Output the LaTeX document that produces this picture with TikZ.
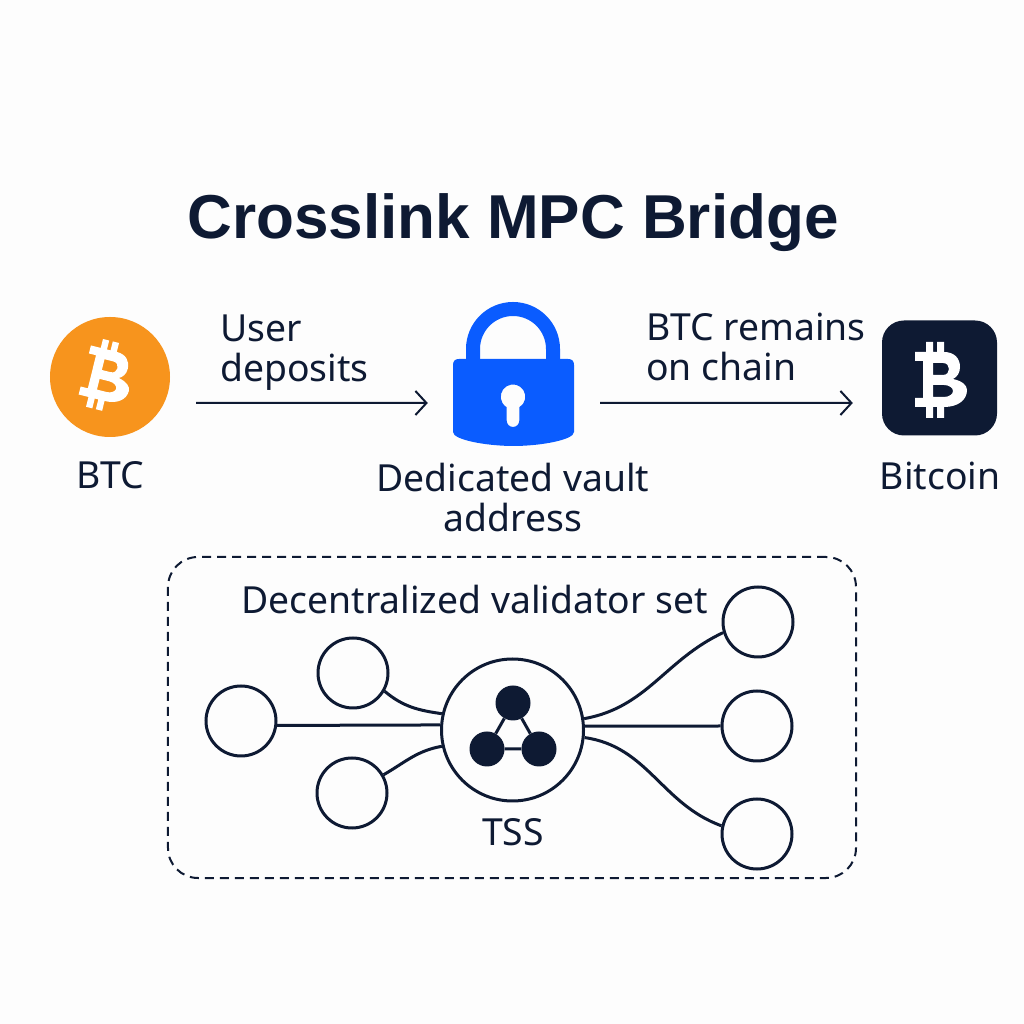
\documentclass[tikz,border=0pt]{standalone}
\usepackage{fontspec}
\setmainfont{Noto Sans}
\newfontfamily\titlefont{Liberation Sans}
\usepackage{tikz}
\usetikzlibrary{arrows.meta}

\definecolor{ink}{HTML}{0E1A33}
\definecolor{coinorange}{HTML}{F7941D}
\definecolor{vaultblue}{HTML}{0A5CFF}
\definecolor{paper}{HTML}{FDFDFD}

\newcommand{\bitcoinglyph}{%
  (-25,28) -- (-14,28) -- (-14,38) -- (-7,38) -- (-7,28) -- (-3,28) -- (-3,38) -- (4,38) -- (4,28)
  .. controls (14,28) and (20,22) .. (20,13) .. controls (20,7) and (17,3) .. (13,1)
  .. controls (22,-1) and (27,-5) .. (27,-10) .. controls (27,-20) and (18,-27) .. (4,-27)
  -- (4,-38) -- (-3,-38) -- (-3,-27) -- (-7,-27) -- (-7,-38) -- (-14,-38) -- (-14,-27) -- (-25,-27)
  -- (-25,-18) -- (-17,-18) -- (-17,19) -- (-25,19) -- cycle
  (-7,17) -- (3,17) .. controls (7,17) and (9,14) .. (9,11) .. controls (9,8) and (7,5) .. (3,5) -- (-7,5) -- cycle
  (-7,-5) -- (4,-5) .. controls (9,-5) and (13,-8) .. (13,-11) .. controls (13,-14) and (9,-17) .. (4,-17) -- (-7,-17) -- cycle}

\tikzset{
  label/.style={text=ink, font=\fontsize{37.3bp}{40bp}\selectfont, inner sep=0pt},
  flow/.style={ink, line width=2bp, -{Straight Barb[length=11bp,width=24bp]}},
  link/.style={ink, line width=3bp},
  validator/.style={circle, draw=ink, line width=3bp, fill=paper, minimum size=70bp, inner sep=0pt},
  member/.style={circle, fill=ink, minimum size=35bp, inner sep=0pt},
}

\begin{document}
\begin{tikzpicture}[x=1bp,y=1bp]
    \useasboundingbox[fill=paper] (0,0) rectangle (1024,1024);

    \node[text=ink, font=\fontsize{62bp}{66bp}\selectfont\titlefont\bfseries, inner sep=0pt] (title) at (513,801) {Crosslink MPC Bridge};

    % top row
    \node[circle, fill=coinorange, minimum size=120bp, inner sep=0pt] (btc) at (110,647) {};
    \node[rectangle, fill=ink, rounded corners=22bp, minimum size=115bp, inner sep=0pt] (bitcoin) at (939.5,646) {};
    \node[minimum width=121bp, minimum height=87bp, inner sep=0pt] (vault) at (513.5,621.5) {};
    \begin{scope}[shift={(107,648)}, rotate=-14, scale=0.92]
      \fill[white, even odd rule] \bitcoinglyph;
    \end{scope}
    \begin{scope}[shift={(940,644)}]
      \fill[white, even odd rule] \bitcoinglyph;
    \end{scope}

    % lock
    \draw[vaultblue, line width=14bp] (473,660) -- (473,675) arc (180:0:40) -- (553,660);
    \fill[vaultblue, even odd rule] (459,665) -- (568,665) .. controls (572,665) and (574,663) .. (574,659)
      -- (574,592) .. controls (574,584) and (540,578) .. (513.5,578) .. controls (487,578) and (453,584) .. (453,592)
      -- (453,659) .. controls (453,663) and (455,665) .. (459,665) -- cycle
      (519.3,616.7) arc (-59.3:239.3:12.3) -- (506.7,603.3) arc (180:360:6.3) -- cycle;

    \node[label] (btclabel) at (110,549) {BTC};
    \node[label] (bitcoinlabel) at (940,548) {Bitcoin};
    \node[label, align=center] (vaultlabel) at (513,526) {Dedicated vault\\address};
    \node[label, align=left, anchor=west] (deposits) at (220,671) {User\\deposits};
    \node[label, align=left, anchor=west] (remains) at (646,677) {BTC remains\\on chain};

    \draw[flow, shorten <=26bp, shorten >=25bp] ([yshift=-26bp]btc.east) -- (vault.west |- 0,621);
    \draw[flow, shorten <=26bp, shorten >=29bp] (vault.east |- 0,621) -- ([yshift=-25bp]bitcoin.west);

    % validator set
    \node[draw=ink, line width=2bp, dashed, dash pattern=on 9bp off 6bp, rounded corners=30bp, minimum width=688bp, minimum height=321bp] (frame) at (512,306.5) {};
    \node[label] (setlabel) at (474.5,424) {Decentralized validator set};

    \node[validator, minimum size=142bp] (hub) at (512.5,294) {};
    \node[validator] (la) at (241,303) {};
    \node[validator] (lb) at (353,351) {};
    \node[validator] (lc) at (352,231) {};
    \node[validator] (ra) at (758,402) {};
    \node[validator] (rb) at (757,298) {};
    \node[validator] (rc) at (757,190) {};

    \draw[link] (la.353) -- (hub.176);
    \draw[link] (lb.-30) to[out=-40, in=172] (hub.167);
    \draw[link] (lc.30) to[out=30, in=190] (hub.193);
    \draw[link] (hub.9) to[out=10, in=205] (ra.197);
    \draw[link] (hub.3) -- (rb.west);
    \draw[link] (hub.-6) to[out=-8, in=160] (rc.167);

    \node[member] (top) at (513,321) {};
    \node[member] (left) at (487,275) {};
    \node[member] (right) at (539,275) {};
    \draw[link] (top) -- (left) -- (right) -- (top);

    \node[label] (tss) at (513,192) {TSS};
\end{tikzpicture}
\end{document}
